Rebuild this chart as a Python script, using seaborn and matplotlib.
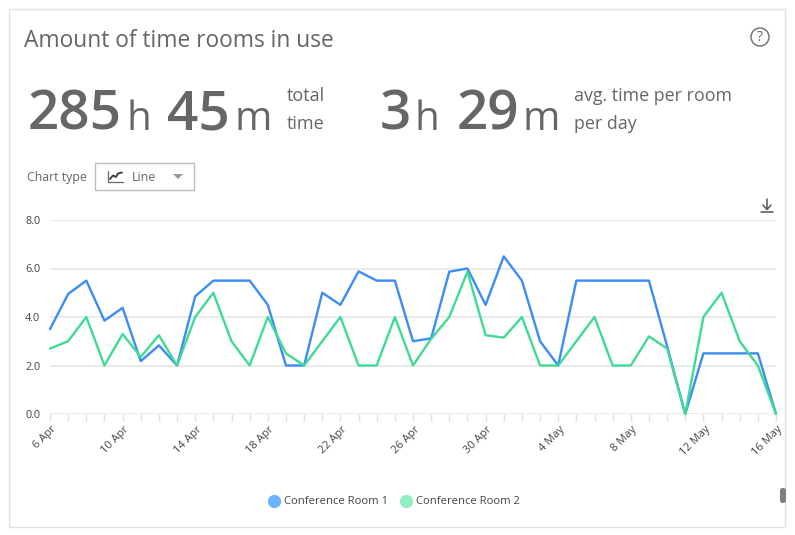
"""Amount of time rooms in use: card with summary figures and a line chart."""
import matplotlib
matplotlib.use('Agg')
import matplotlib.dates as mdates
import matplotlib.pyplot as plt
import numpy as np
import pandas as pd
import seaborn as sns
from matplotlib.lines import Line2D
from matplotlib.patches import Circle, FancyBboxPatch, Polygon, Rectangle
from matplotlib.transforms import ScaledTranslation

# Data
FECHAS = pd.date_range('2024-04-06', '2024-05-16', freq='D')
SALA_1 = [3.5, 4.95, 5.5, 3.85, 4.38, 2.18, 2.83, 2.0, 4.85, 5.5, 5.5, 5.5, 4.5,
          2.0, 2.0, 5.0, 4.5, 5.88, 5.5, 5.5, 3.0, 3.12, 5.87, 6.0, 4.5,
          6.5, 5.5, 3.0, 2.0, 5.5, 5.5, 5.5, 5.5, 5.5, 2.8, 0.0, 2.5, 2.5, 2.5, 2.5, 0.0]
SALA_2 = [2.7, 3.0, 4.0, 2.0, 3.3, 2.35, 3.25, 2.0, 4.0, 5.0, 3.0, 2.0, 4.0,
          2.5, 2.0, 3.0, 4.0, 2.0, 2.0, 4.0, 2.0, 3.1, 4.0, 5.87, 3.25,
          3.15, 4.0, 2.0, 2.0, 3.0, 4.0, 2.0, 2.0, 3.2, 2.7, 0.0, 4.0, 5.0, 3.0, 2.0, 0.0]
NOMBRES = ['Conference Room 1', 'Conference Room 2']
Y_TICKS = [0, 2, 4, 6, 8]

COLOR_TEXTO = '#666666'
COLOR_LINEAS = ['#3B8CF5', '#3FDB96']
COLOR_LEYENDA = ['#6CB4FF', '#8CF0C4']
W, H = 795, 535

sns.set_theme(style='white')
plt.rcParams['font.family'] = ['Open Sans', 'DejaVu Sans']

fig = plt.figure(figsize=(W / 100, H / 100), dpi=100, facecolor='white')

# Capa de interfaz en coordenadas de pixel
ui = fig.add_axes([0, 0, 1, 1])
ui.set_xlim(0, W)
ui.set_ylim(H, 0)
ui.axis('off')
ui.add_patch(Rectangle((8.5, 8.5), 776, 518.5, fc='white', ec='#E2E2E2', lw=1))


def texto(x, y, s, size, weight='normal', color=COLOR_TEXTO, ha='left'):
    ui.text(x, y, s, fontsize=size, fontweight=weight, color=color,
            ha=ha, va='baseline')


texto(24, 47, 'Amount of time rooms in use', 16.4)

# Cifras de resumen
for x, s, size, weight in [(28, '285', 39.5, 'semibold'), (127, 'h', 29, 'normal'),
                           (167, '45', 39.5, 'semibold'), (235, 'm', 29, 'normal'),
                           (380, '3', 39.5, 'semibold'), (415, 'h', 29, 'normal'),
                           (457, '29', 39.5, 'semibold'), (523, 'm', 29, 'normal')]:
    texto(x, 130, s, size, weight)
texto(287, 101, 'total', 13)
texto(287, 129, 'time', 13)
texto(574, 101, 'avg. time per room', 12.9)
texto(574, 129, 'per day', 12.9)

# Selector de tipo de grafico
texto(27, 181, 'Chart type', 8.9)
ui.add_patch(Rectangle((94.5, 162.5), 99, 27, fc='white', ec='#BDBDBD', lw=1))
ui.add_line(Line2D([108, 108, 123], [171, 181.5, 181.5], color='#666666', lw=0.9))
ui.add_line(Line2D([110, 113, 116, 118, 122], [179, 175.5, 177, 173.5, 172.5],
                   color='#444444', lw=1.4))
texto(132, 181, 'Line', 8.9)
ui.add_patch(Polygon([(173, 174), (183, 174), (178, 179)], fc='#999999', ec='none'))

# Icono de ayuda
ui.add_patch(Circle((760, 37), 9, fc='white', ec='#777777', lw=1.1))
ui.text(760, 37.5, '?', fontsize=10, color='#666666', ha='center', va='center')

# Icono de descarga
ui.add_line(Line2D([767, 767], [199, 209], color='#555555', lw=1.1))
ui.add_line(Line2D([763, 767, 771], [205, 209.5, 205], color='#555555', lw=1.1))
ui.add_line(Line2D([761, 773], [212, 212], color='#555555', lw=1.1))

# Barra de desplazamiento
ui.add_patch(FancyBboxPatch((780, 488), 6, 15, boxstyle='round,pad=0,rounding_size=2.5',
                            fc='#808080', ec='none', mutation_aspect=1))

# Grafico de lineas
ax = fig.add_axes([50 / W, 1 - 414 / H, (776 - 50) / W, (414 - 220) / H])
ax.patch.set_alpha(0)
df = pd.DataFrame({
    'fecha': np.tile(FECHAS, 2),
    'horas': SALA_1 + SALA_2,
    'sala': NOMBRES[0:1] * len(SALA_1) + NOMBRES[1:2] * len(SALA_2),
})
sns.lineplot(data=df, x='fecha', y='horas', hue='sala', palette=COLOR_LINEAS,
             linewidth=1.7, legend=False, ax=ax, clip_on=False)

ax.set_xlim(FECHAS[0], FECHAS[-1])
ax.set_ylim(0, 8)
ax.set_xlabel('')
ax.set_ylabel('')
ax.set_yticks(Y_TICKS)
ax.set_yticklabels([f'{v:.1f}' for v in Y_TICKS])
ax.tick_params(axis='y', length=0, pad=7, labelsize=7.8, labelcolor='#444444')
for v in Y_TICKS:
    ax.axhline(v, color='#E6E6E6', lw=1.1, zorder=0)

ax.set_xticks(FECHAS[::4])
ax.set_xticks(FECHAS, minor=True)
ax.xaxis.set_major_formatter(mdates.DateFormatter('%-d %b'))
ax.tick_params(axis='x', which='both', bottom=True, length=5, width=1, color='#E0E0E0')
ax.tick_params(axis='x', which='major', labelsize=8, labelcolor='#444444', pad=2)
desplazar = ScaledTranslation(1 / 100, 0, fig.dpi_scale_trans)
for etiqueta in ax.get_xticklabels():
    etiqueta.set_rotation(45)
    etiqueta.set_ha('right')
    etiqueta.set_rotation_mode('anchor')
    etiqueta.set_transform(etiqueta.get_transform() + desplazar)
sns.despine(ax=ax, left=True, top=True, right=True, bottom=True)

# Leyenda
marcas = [Line2D([], [], ls='none', marker='o', ms=9.5, mfc=c, mec='none') for c in COLOR_LEYENDA]
fig.legend(marcas, NOMBRES, loc='center', bbox_to_anchor=(393 / W, 1 - 502 / H), ncol=2,
           frameon=False, fontsize=8.15, labelcolor='#444444', handletextpad=0.2,
           columnspacing=0.88, handlelength=1.4)

fig.savefig('out.png', dpi=100, facecolor='white')
plt.close(fig)
